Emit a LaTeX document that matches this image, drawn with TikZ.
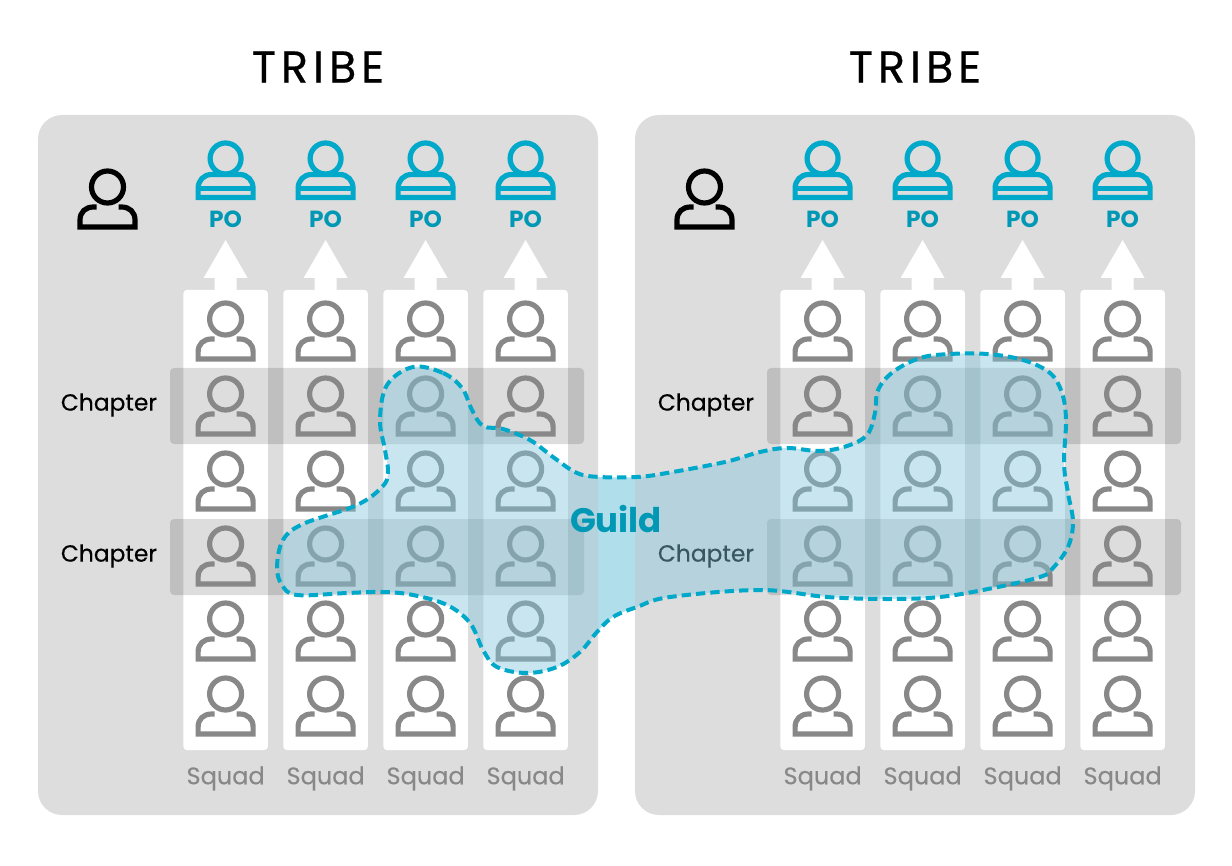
\documentclass[tikz,border=0pt]{standalone}
\usepackage{fontspec}
\setmainfont{Poppins}
\usetikzlibrary{positioning}
\definecolor{panelgrey}{HTML}{DDDDDD}
\definecolor{iconline}{HTML}{888888}
\definecolor{poblue}{HTML}{00A9C9}
\definecolor{guildfill}{RGB}{130,198,221}
\newcommand\guildpath{plot[smooth cycle, tension=.6] coordinates {
  (413,367) (443,373) (462,388) (472,410) (483,426) (503,429) (530,440) (553,457)
  (577,473) (600,477) (637,477) (667,473) (725,462) (760,452) (787,448) (820,451)
  (847,446) (867,435) (875,413) (878,390) (893,372) (920,358) (950,354) (987,354)
  (1023,360) (1050,373) (1062,393) (1066,420) (1064,463) (1068,493) (1073,522)
  (1068,547) (1053,568) (1040,577) (993,588) (940,597) (887,599) (827,597) (760,590)
  (670,597) (637,607) (613,617) (597,632) (580,652) (557,667) (527,673) (497,667)
  (483,650) (470,623) (447,605) (413,595) (383,592) (347,593) (297,595) (282,585)
  (277,567) (283,540) (303,524) (357,505) (382,487) (388,473) (385,450) (380,420)
  (387,385)}}
\begin{document}
\begin{tikzpicture}[
      x=0.75pt, y=-0.75pt,
      every node/.append style={inner sep=0pt},
      panel/.style={fill=panelgrey, rounded corners=18pt},
      squadcol/.style={fill=white, rounded corners=2.5pt},
      chapterband/.style={fill=black, fill opacity=.135, rounded corners=3pt},
      titlelabel/.style={font=\fontsize{33.5}{34}\selectfont\addfontfeatures{LetterSpace=11,FakeBold=0.5}},
      polabel/.style={font=\fontsize{17.5}{18}\selectfont\bfseries, text=poblue!90!black},
      chapterlabel/.style={font=\fontsize{17.5}{18}\selectfont\addfontfeatures{FakeBold=0.3}},
      squadlabel/.style={font=\fontsize{18}{18}\selectfont\addfontfeatures{FakeBold=0.3}, text=iconline},
      person/.pic={
        \draw[line width=3.9pt, pic actions] (0,0) circle (16);
        \draw[line width=3.9pt, pic actions] (-11,20) -- (-14,20) .. controls (-22,20) and (-27.5,25) .. (-27.5,33)
          -- (-27.5,40) -- (27.5,40) -- (27.5,33) .. controls (27.5,25) and (22,20) .. (14,20) -- (11,20);
      },
      poperson/.pic={
        \draw[line width=3.9pt, pic actions] (0,0) circle (15.5);
        \draw[line width=3.9pt, pic actions] (-14,16) .. controls (-22,16) and (-27.5,22) .. (-27.5,30)
          -- (-27.5,39) -- (27.5,39) -- (27.5,30) .. controls (27.5,22) and (22,16) .. (14,16) -- cycle;
        \draw[line width=3.9pt, pic actions] (-27.5,30) -- (27.5,30);
      },
    ]
      \useasboundingbox (0,0) rectangle (1232,866);
      \foreach \tx in {0,597} {
        \begin{scope}[shift={(\tx,0)}]
          \node[titlelabel] (title\tx) at (318,67) {TRIBE};
          \fill[panel] (38,115) rectangle (598,815);
          \pic[draw=black] at (107.5,187) {person};
          \foreach \cx [count=\ci] in {225.6,325.6,425.6,525.6} {
            \fill[white] (\cx-22,278) -- (\cx,240) -- (\cx+22,278) -- (\cx+11,278) -- (\cx+11,292) -- (\cx-11,292) -- (\cx-11,278) -- cycle;
            \fill[squadcol] (\cx-42.2,290) rectangle (\cx+42.2,750);
          }
          \foreach \ry [count=\ri] in {368,519} {
            \fill[chapterband] (170,\ry) rectangle (584,\ry+76);
            \node[chapterlabel] (chapter\tx-\ri) at (109,\ry+37) {Chapter};
          }
          \foreach \cx [count=\ci] in {225.6,325.6,425.6,525.6} {
            \pic[draw=poblue] at (\cx,158.5) {poperson};
            \node[polabel] (po\tx-\ci) at (\cx,219) {PO};
            \node[squadlabel] (squad\tx-\ci) at (\cx,778.5) {Squad};
            \foreach \ry in {319,394,469,544,619,694}
              \pic[draw=iconline] at (\cx,\ry) {person};
          }
        \end{scope}
      }
      % guild blob, lighter where it crosses the gap
      \fill[guildfill, fill opacity=.44] \guildpath;
      \begin{scope}
        \clip \guildpath;
        \fill[poblue, fill opacity=.12] (598,440) rectangle (635,660);
      \end{scope}
      \draw[poblue, line width=3pt, dash pattern=on 7pt off 3.8pt] \guildpath;
      \node[font=\fontsize{25.5}{26}\selectfont\bfseries, text=poblue!90!black] (guild) at (616,519) {Guild};
    \end{tikzpicture}
\end{document}
